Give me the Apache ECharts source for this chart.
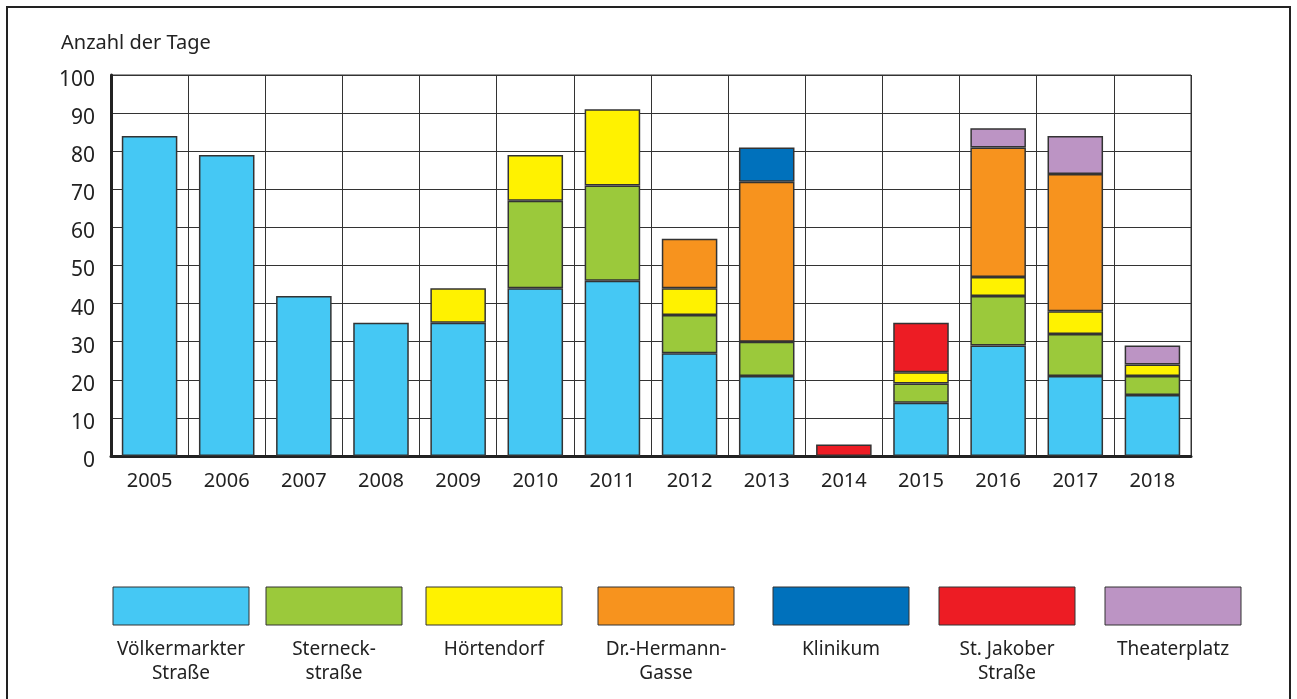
<!DOCTYPE html>
<html lang="de">
<head>
    <meta charset="UTF-8" />
    <title>Anzahl der Tage</title>
</head>
<body style="margin:0">
<div id="main" style="width:1297px;height:699px"></div>
<script src="https://cdn.jsdelivr.net/npm/echarts@6.0.0/dist/echarts.min.js"></script>
<script>
  // Jahre
  var years = ["2005","2006","2007","2008","2009","2010","2011","2012","2013","2014","2015","2016","2017","2018"];
  // Tage je Messstelle (0 = keine Daten)
  var voelkermarkter = [84, 79, 42, 35, 35, 44, 46, 27, 21, 0, 14, 29, 21, 16];
  var sterneck       = [ 0,  0,  0,  0,  0, 23, 25, 10,  9, 0,  5, 13, 11,  5];
  var hoertendorf    = [ 0,  0,  0,  0,  9, 12, 20,  7,  0, 0,  3,  5,  6,  3];
  var drHermann      = [ 0,  0,  0,  0,  0,  0,  0, 13, 42, 0,  0, 34, 36,  0];
  var klinikum       = [ 0,  0,  0,  0,  0,  0,  0,  0,  9, 0,  0,  0,  0,  0];
  var stJakober      = [ 0,  0,  0,  0,  0,  0,  0,  0,  0, 3, 13,  0,  0,  0];
  var theaterplatz   = [ 0,  0,  0,  0,  0,  0,  0,  0,  0, 0,  0,  5, 10,  5];

  var names = ["Völkermarkter\nStraße", "Sterneck-\nstraße", "Hörtendorf", "Dr.-Hermann-\nGasse", "Klinikum", "St. Jakober\nStraße", "Theaterplatz"];
  var values = [voelkermarkter, sterneck, hoertendorf, drHermann, klinikum, stJakober, theaterplatz];
  var colors = ["#45c8f4", "#9bc93b", "#fff200", "#f7931e", "#0071bc", "#ed1c24", "#bc94c4"];

  var font = "Noto Sans";
  var myChart = echarts.init(document.getElementById("main"));

  var series = values.map(function (arr, i) {
    return {
      name: names[i],
      type: "bar",
      stack: "tage",
      barWidth: "72%",
      itemStyle: { color: colors[i], borderColor: "#333", borderWidth: 1.5 },
      data: arr.map(function (v) { return v || null; })
    };
  });

  // Legende unten: Farbkästchen mit Text darunter
  var legendX = [113, 266, 426, 598, 773, 939, 1105];
  var graphic = [{
    type: "rect",
    shape: { x: 7, y: 7, width: 1283, height: 710 },
    style: { fill: "none", stroke: "#222", lineWidth: 2 },
    silent: true
  }];
  names.forEach(function (n, i) {
    graphic.push({
      type: "rect",
      shape: { x: legendX[i], y: 587, width: 136, height: 38 },
      style: { fill: colors[i], stroke: "#333", lineWidth: 1 }
    });
    graphic.push({
      type: "text",
      x: legendX[i] + 68,
      y: 638,
      style: {
        text: n, fill: "#222", font: "19px '" + font + "'",
        align: "center", verticalAlign: "top", lineHeight: 24
      }
    });
  });

  var option = {
    animation: false,
    title: {
      text: "Anzahl der Tage",
      left: 56, top: 28,
      textStyle: { fontFamily: font, fontSize: 20, fontWeight: "normal", color: "#222" }
    },
    grid: {
      left: 111, right: 106, top: 75, bottom: 243,
      show: true, borderColor: "#333", borderWidth: 1
    },
    xAxis: {
      type: "category",
      data: years,
      axisLine: { lineStyle: { color: "#222", width: 3 } },
      axisTick: { show: false },
      axisLabel: { color: "#222", fontFamily: font, fontSize: 20, margin: 15 },
      splitLine: { show: true, lineStyle: { color: "#333", width: 1 } }
    },
    yAxis: {
      type: "value",
      min: 0, max: 100, interval: 10,
      axisLine: { show: true, lineStyle: { color: "#222", width: 3 } },
      axisTick: { show: false },
      axisLabel: {
        color: "#222", fontFamily: font, fontSize: 21, margin: 16,
        verticalAlign: "top", lineHeight: 10
      },
      splitLine: { lineStyle: { color: "#333", width: 1 } }
    },
    graphic: graphic,
    series: series
  };
  myChart.setOption(option);
</script>
</body>
</html>
